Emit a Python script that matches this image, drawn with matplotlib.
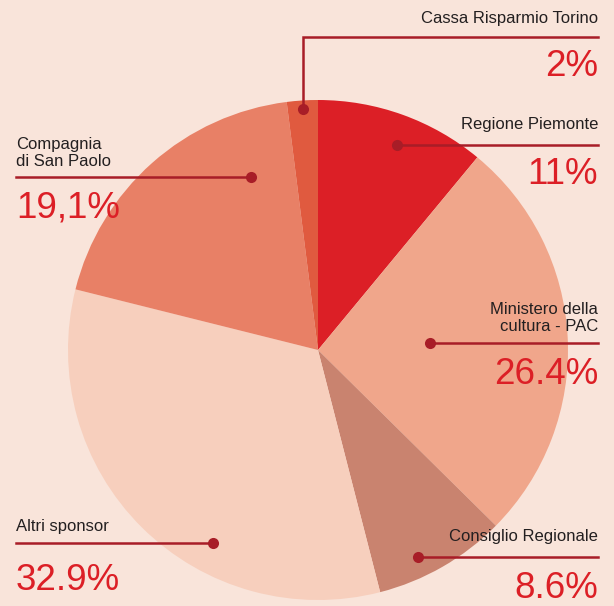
import matplotlib.pyplot as plt

# data, clockwise from 12 o'clock
names = ['Regione Piemonte', 'Ministero della\ncultura - PAC', 'Consiglio Regionale',
         'Altri sponsor', 'Compagnia\ndi San Paolo', 'Cassa Risparmio Torino']
shares = [11, 26.4, 8.6, 32.9, 19.1, 2]
pct_labels = ['11%', '26.4%', '8.6%', '32.9%', '19,1%', '2%']
colors = ['#dc1f26', '#f0a68b', '#c9836f', '#f7cfbd', '#e88066', '#e05a3f']

BG = '#f9e4da'
LINE = '#a81d27'
RED = '#dc1f26'
H = 606

plt.rcParams['font.family'] = ['Liberation Sans', 'DejaVu Sans']

fig = plt.figure(figsize=(6.14, 6.06), dpi=100, facecolor=BG)
ax = fig.add_axes([0, 0, 1, 1])
ax.set_facecolor(BG)

ax.pie(shares, colors=colors, startangle=90, counterclock=False,
       center=(318, H - 350), radius=250, wedgeprops=dict(linewidth=0))
ax.set_xlim(0, 614)
ax.set_ylim(0, H)
ax.axis('off')

# label layout in image pixels: (dot x, dot y, side, name y, pct y)
layout = [
    (397, 145, 'r', 124, 175),
    (430, 343, 'r', 318, 374),
    (418, 557, 'r', 537, 588),
    (213, 543, 'l', 527, 581),
    (251, 177, 'l', 153, 208),
    (303, 109, 'r', 18, 67),
]

for (dx, dy, side, ny, py), name, pct in zip(layout, names, pct_labels):
    if side == 'r':
        tx, ha = 598, 'right'
    else:
        tx, ha = 16, 'left'
    if name.startswith('Cassa'):
        # elbow leader going up then right
        ax.plot([dx, dx, tx], [H - dy, H - 37, H - 37], color=LINE, lw=1.8,
                solid_joinstyle='miter')
    else:
        ax.plot([dx, tx], [H - dy, H - dy], color=LINE, lw=1.8)
    ax.plot(dx, H - dy, 'o', color=LINE, ms=8, mec='none')
    ax.text(tx, H - ny, name, ha=ha, va='center', fontsize=12,
            color='#231f20', linespacing=1.2)
    ax.text(tx, H - py, pct, ha=ha, va='center', fontsize=26.5, color=RED)

plt.savefig('out.png', dpi=100, facecolor=BG)
